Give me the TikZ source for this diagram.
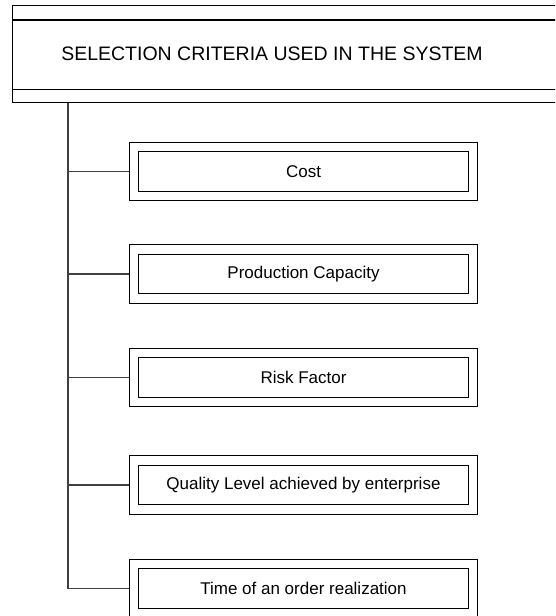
\documentclass[tikz,border=0pt]{standalone}
\usepackage{fontspec}
\setmainfont{Liberation Sans}
\usetikzlibrary{positioning}

\begin{document}
\begin{tikzpicture}[x=1pt, y=-1pt]
	
	\tikzset{
		critbox/.style={draw, double, double distance=8.2pt, line width=1.3pt,
			minimum width=339pt, minimum height=49pt, outer sep=5.4pt,
			font=\fontsize{17}{20}\selectfont},
		branch/.style={draw=black!75, line width=1.2pt}
	}
	
	\useasboundingbox (0,0) rectangle (555,616);
	\clip (0,0) rectangle (555,616);
	
	\node[draw, line width=1.4pt, minimum width=600pt, minimum height=96.6pt,
		anchor=north west, inner sep=0pt] (head) at (12,5) {};
	\draw[line width=1.4pt] ([yshift=-15pt]head.north west) -- ([yshift=-15pt]head.north east);
	\draw[line width=1.4pt] ([yshift=13.6pt]head.south west) -- ([yshift=13.6pt]head.south east);
	\node[font=\fontsize{19.5}{22}\selectfont] (headtext) at (272,54)
		{SELECTION CRITERIA USED IN THE SYSTEM};
	
	\foreach \name/\y/\txt in {cost/171.5/Cost, capacity/274/Production Capacity,
		risk/377.5/Risk Factor, quality/485/Quality Level achieved by enterprise,
		time/588.5/Time of an order realization} {
		\node[critbox] (\name) at (303.5,\y) {\txt};
	}
	
	\coordinate (trunk) at (68,0 |- head.south);
	\draw[branch] (trunk) |- (time.west);
	\foreach \name in {cost, capacity, risk, quality} {
		\draw[branch] (trunk |- \name.west) -- (\name.west);
	}
	
\end{tikzpicture}
\end{document}
